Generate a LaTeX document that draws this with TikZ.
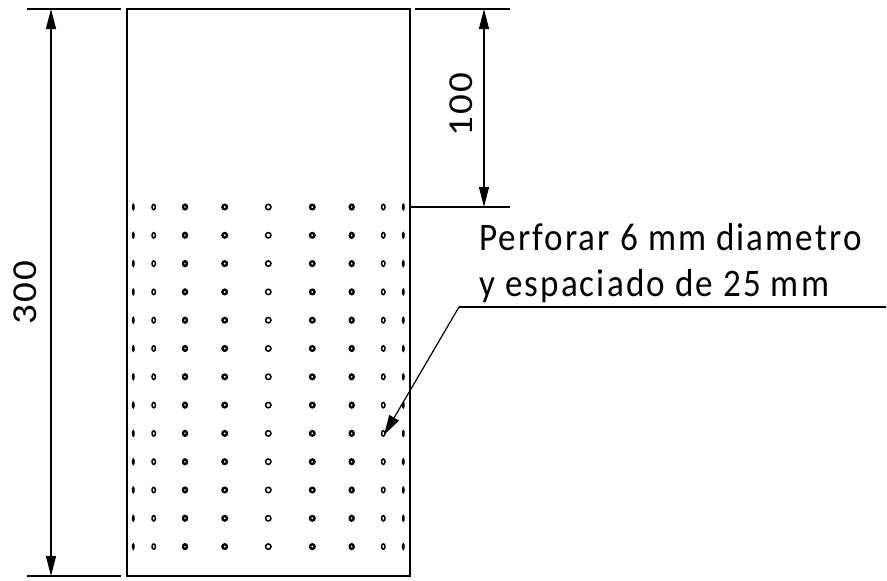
\documentclass[tikz,border=0pt]{standalone}
\usepackage{fontspec}
\setmainfont{Carlito}[LetterSpace=6]
\usetikzlibrary{arrows.meta}
\tikzset{
  lin/.style={line width=1.2pt,black},
  dimline/.style={lin,{Triangle[length=20pt,width=10pt]}-{Triangle[length=20pt,width=10pt]}},
  leader/.style={lin,-{Triangle[length=20pt,width=11pt]}},
  lbl/.style={inner sep=0pt,font=\fontsize{39}{39}\selectfont,anchor=base west,xscale=0.9},
  hole/.style={draw,line width=1.5pt,fill=white},
  holefull/.style={draw,line width=2.3pt,fill=white},
  holeedge/.style={draw,line width=1.5pt,fill=black},
}
\begin{document}
\begin{tikzpicture}[x=1pt,y=-1pt]
\useasboundingbox (0,0) rectangle (887,581);
\draw[lin] (127,9) rectangle (410,576);
% extension lines
\coordinate (tl1) at (27,9); \coordinate (tl2) at (121,9);
\coordinate (bl1) at (27,576); \coordinate (bl2) at (121,576);
\coordinate (tr1) at (415,9); \coordinate (tr2) at (510,9);
\coordinate (mr1) at (410,207); \coordinate (mr2) at (510,207);
\draw[lin] (tl1) -- (tl2);
\draw[lin] (bl1) -- (bl2);
\draw[lin] (tr1) -- (tr2);
\draw[lin] (mr1) -- (mr2);
% dimensions
\coordinate (d1a) at (51,9); \coordinate (d1b) at (51,576);
\coordinate (d2a) at (484,9); \coordinate (d2b) at (484,207);
\draw[dimline] (d1a) -- (d1b);
\draw[dimline] (d2a) -- (d2b);
\node[lbl,anchor=center,rotate=90] (t300) at (25,293) {300};
\node[lbl,anchor=center,rotate=90] (t100) at (461,105) {100};
% holes
\foreach \r in {0,...,12}{
  \pgfmathsetmacro{\yy}{207+28.3*\r}
  \foreach \x/\rx/\ry/\st in {133.3/0.7/2.6/holeedge,153.7/1.7/2.7/hole,185/2.0/2.4/holefull,224.7/2.3/2.3/holefull,268.3/2.7/2.7/hole,312.3/2.3/2.3/holefull,351.7/2.0/2.4/holefull,383.3/1.7/2.7/hole,403.3/0.7/2.6/holeedge}{
    \draw[\st] (\x,\yy) ellipse [x radius=\rx,y radius=\ry];
  }
}
% leader
\node[lbl] (note1) at (479,250) {Perforar 6 mm diametro};
\node[lbl] (note2) at (479,296) {y espaciado de 25 mm};
\coordinate (le) at (886,307); \coordinate (lk) at (459,307); \coordinate (lt) at (384,435);
\draw[lin] (le) -- (lk);
\draw[leader] (lk) -- (lt);
\end{tikzpicture}
\end{document}
